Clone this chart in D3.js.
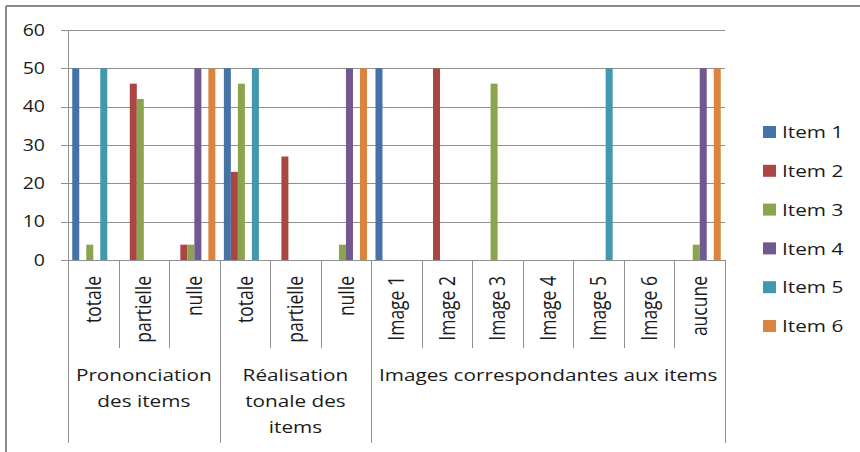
<!DOCTYPE html>
<html lang="fr">
<head>
<meta charset="UTF-8">
<title>Items</title>
<script src="https://d3js.org/d3.v7.min.js"></script>
<style>
  body, html { margin: 0; background: #fff; }
  text { font-family: "Open Sans", sans-serif; fill: #1a1a1a; }
</style>
</head>
<body>
<div id="chart"></div>
<script>
// data
const categories = ["totale", "partielle", "nulle", "totale", "partielle", "nulle",
  "Image 1", "Image 2", "Image 3", "Image 4", "Image 5", "Image 6", "aucune"];
const groups = [
  { lines: ["Prononciation", "des items"], size: 3 },
  { lines: ["Réalisation", "tonale des", "items"], size: 3 },
  { lines: ["Images correspondantes aux items"], size: 7 }
];
const seriesNames = ["Item 1", "Item 2", "Item 3", "Item 4", "Item 5", "Item 6"];
const item1 = [50, 0, 0, 50, 0, 0, 50, 0, 0, 0, 0, 0, 0];
const item2 = [0, 46, 4, 23, 27, 0, 0, 50, 0, 0, 0, 0, 0];
const item3 = [4, 42, 4, 46, 0, 4, 0, 0, 46, 0, 0, 0, 4];
const item4 = [0, 0, 50, 0, 0, 50, 0, 0, 0, 0, 0, 0, 50];
const item5 = [50, 0, 0, 50, 0, 0, 0, 0, 0, 0, 50, 0, 0];
const item6 = [0, 0, 50, 0, 0, 50, 0, 0, 0, 0, 0, 0, 50];
const seriesValues = [item1, item2, item3, item4, item5, item6];
const yTicks = [0, 10, 20, 30, 40, 50, 60];
const colors = ["#4572A7", "#AA4643", "#89A54E", "#71588F", "#4198AF", "#DB843D"];

const width = 860, height = 452;
const m = { left: 68, right: 725, top: 30, bottom: 260 };
const sx = 1.22; // horizontal stretch of the original image text
const gridColor = "#8f8f8f";

const svg = d3.select("#chart").append("svg")
  .attr("width", width).attr("height", height);

// outer frame
svg.append("line").attr("x1", 6).attr("x2", width).attr("y1", 6).attr("y2", 6)
  .attr("stroke", "#888").attr("stroke-width", 2);
svg.append("line").attr("x1", 6).attr("x2", 6).attr("y1", 6).attr("y2", height)
  .attr("stroke", "#888").attr("stroke-width", 2);

const idx = categories.map((d, i) => i);
const x0 = d3.scaleBand().domain(idx).range([m.left, m.right]);
const pad = x0.bandwidth() * 0.084;
const x1 = d3.scaleBand().domain(seriesNames).range([pad, x0.bandwidth() - pad]);
const y = d3.scaleLinear().domain([0, 60]).range([m.bottom, m.top]);

// gridlines
svg.append("g").selectAll("line").data(yTicks).join("line")
  .attr("x1", m.left - 7).attr("x2", m.right)
  .attr("y1", d => Math.round(y(d)) + 0.5).attr("y2", d => Math.round(y(d)) + 0.5)
  .attr("stroke", gridColor).attr("stroke-width", 1);
svg.append("line").attr("x1", m.left + 0.5).attr("x2", m.left + 0.5)
  .attr("y1", m.top).attr("y2", m.bottom).attr("stroke", gridColor);

// y labels
svg.append("g").selectAll("text").data(yTicks).join("text")
  .attr("transform", d => `translate(${m.left - 23},${y(d)}) scale(${sx},1)`)
  .attr("dy", "0.36em")
  .attr("text-anchor", "end")
  .style("font-size", "16px")
  .text(d => d);

// bars
const bars = svg.append("g");
seriesValues.forEach((vals, s) => {
  bars.append("g").attr("fill", colors[s])
    .selectAll("rect").data(vals.map((v, i) => ({ v, i })).filter(d => d.v > 0)).join("rect")
    .attr("x", d => x0(d.i) + x1(seriesNames[s]))
    .attr("width", x1.bandwidth())
    .attr("y", d => y(d.v))
    .attr("height", d => y(0) - y(d.v));
});

// category separators
const bounds = [];
let acc = 0;
groups.forEach(g => { bounds.push(acc); acc += g.size; });
bounds.push(acc);
const edge = i => i < categories.length ? x0(i) : m.right;
svg.append("g").selectAll("line").data(d3.range(categories.length + 1)).join("line")
  .attr("x1", i => Math.round(edge(i)) + 0.5)
  .attr("x2", i => Math.round(edge(i)) + 0.5)
  .attr("y1", m.bottom)
  .attr("y2", i => bounds.includes(i) ? 443 : 348)
  .attr("stroke", gridColor);

// category labels (rotated)
svg.append("g").selectAll("text").data(categories).join("text")
  .attr("transform", (d, i) => `translate(${x0(i) + x0.bandwidth() / 2},276) scale(${sx},1) rotate(-90)`)
  .attr("dy", "0.36em")
  .attr("text-anchor", "end")
  .style("font-size", "17.5px")
  .text(d => d);

// group labels
groups.forEach((g, k) => {
  const cx = (edge(bounds[k]) + edge(bounds[k + 1])) / 2;
  g.lines.forEach((t, j) => {
    svg.append("text")
      .attr("transform", `translate(${cx},${381 + j * 26}) scale(${sx},1)`)
      .attr("text-anchor", "middle")
      .style("font-size", "17px")
      .text(t);
  });
});

// legend
const legend = svg.append("g").selectAll("g").data(seriesNames).join("g")
  .attr("transform", (d, i) => `translate(763,${132 + i * 38.8})`);
legend.append("rect").attr("x", 0).attr("y", -6).attr("width", 13).attr("height", 12)
  .attr("fill", (d, i) => colors[i]);
legend.append("text")
  .attr("transform", `translate(19,0) scale(${sx},1)`)
  .attr("dy", "0.36em")
  .style("font-size", "17px")
  .text(d => d);
</script>
</body>
</html>
